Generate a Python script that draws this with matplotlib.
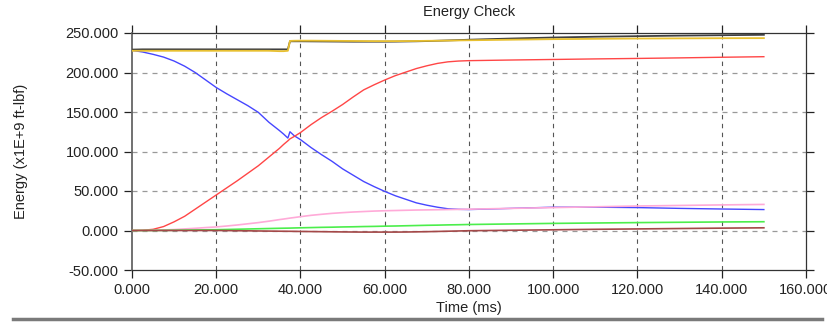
import matplotlib
matplotlib.use("Agg")
import matplotlib.pyplot as plt
from matplotlib.lines import Line2D
from matplotlib.ticker import FormatStrFormatter

plt.rcParams['font.family'] = ['Liberation Sans', 'DejaVu Sans']

time_ms = [0, 2.5, 5, 7.5, 10, 12.5, 15, 17.5, 20, 22.5, 25, 27.5, 30, 32.5, 35, 36, 37, 37.5, 38.5,
           40, 42.5, 45, 47.5, 50, 52.5, 55, 57.5, 60, 62.5, 65, 67.5, 70, 72.5, 75, 77.5, 80,
           90, 100, 110, 120, 130, 140, 150]
kinetic = [228, 226, 223, 219.5, 214.5, 208, 200, 190.5, 181, 173, 165.5, 158, 149.5, 137, 126.5, 122, 117,
           125, 120, 115, 105, 96, 87.5, 78, 70, 62, 55.5, 49.5, 44, 39.5, 35, 32, 29.5, 27.5, 26.8, 26.5,
           28, 29.5, 29.5, 29, 28, 27.2, 26.5]
internal = [0, 0.3, 1.5, 5, 11, 18, 27, 36, 45, 54, 63, 72.5, 82, 93, 104, 109, 113.5, 116, 119,
            124, 134, 143, 151, 159.5, 169, 178, 184.5, 190.5, 196, 200.5, 205, 208.5, 211.5, 213.5, 214.5, 215,
            215.8, 216.5, 217.2, 217.8, 218.5, 219.3, 220]
pink_energy = [0, 0.1, 0.3, 0.7, 1.2, 2, 2.8, 3.7, 4.5, 5.7, 7, 8.5, 10, 11.8, 13.8, 14.5, 15.3, 15.7, 16.4,
               17.5, 19.2, 20.5, 21.7, 22.6, 23.4, 24, 24.6, 25, 25.3, 25.6, 25.9, 26.1, 26.3, 26.5, 26.7, 27,
               28, 29, 30, 31, 31.7, 32.4, 33]
green_energy = [0, 0, 0.1, 0.2, 0.3, 0.5, 0.7, 0.85, 1, 1.3, 1.6, 1.9, 2.2, 2.5, 2.8, 2.9, 3, 3.05, 3.2,
                3.4, 3.7, 4, 4.2, 4.5, 4.7, 5, 5.2, 5.5, 5.7, 6, 6.3, 6.6, 6.8, 7.1, 7.3, 7.6,
                8.3, 9, 9.5, 10, 10.4, 10.8, 11.1]
brown_energy = [0, 0, 0, 0, 0, 0, 0, 0, 0, -0.1, -0.3, -0.4, -0.6, -0.75, -0.9, -0.95, -1, -1, -1.1,
                -1.2, -1.35, -1.5, -1.65, -1.8, -1.9, -2, -2, -2, -2, -1.9, -1.7, -1.5, -1.2, -0.9, -0.6, -0.3,
                0.3, 0.9, 1.5, 2, 2.5, 3, 3.4]
total_black = [229, 229.3, 229.3, 229.3, 229.3, 229.3, 229.3, 229.3, 229.3, 229.3, 229.3, 229.3, 229.3, 229.3,
               229.3, 229.3, 229.3, 239.5, 239.5,
               239.5, 239.4, 239.3, 239.2, 239.1, 239, 239, 239, 239, 239.1, 239.3, 239.5, 239.8, 240.2, 240.6,
               241, 241.5, 243, 244.3, 245.3, 246, 246.7, 247.2, 247.7]
total_yellow = [227.5, 227.5, 227.5, 227.5, 227.5, 227.5, 227.5, 227.5, 227.5, 227.5, 227.5, 227.5, 227.5,
                227.5, 227, 227, 227.5, 240, 240.2,
                240.3, 240.3, 240.2, 240.1, 240, 239.9, 239.8, 239.7, 239.7, 239.7, 239.8, 239.9, 240.1, 240.2,
                240.4, 240.6, 240.8, 241.5, 242.2, 242.6, 243, 243.2, 243.4, 243.5]

x_ticks = [0, 20, 40, 60, 80, 100, 120, 140, 160]
y_ticks = [-50, 0, 50, 100, 150, 200, 250]

fig = plt.figure(figsize=(8.28, 3.23), dpi=100)
ax = fig.add_axes([132/828, 53/323, 674/828, 237/323])

ax.plot(time_ms, kinetic, color='#4646ff', lw=1.0, zorder=3)
ax.plot(time_ms, internal, color='#ff4646', lw=1.0, zorder=3)
ax.plot(time_ms, pink_energy, color='#ffaad8', lw=1.2, zorder=3)
ax.plot(time_ms, green_energy, color='#4cee4c', lw=1.2, zorder=3)
ax.plot(time_ms, brown_energy, color='#a44848', lw=1.2, zorder=4)
ax.plot(time_ms, total_black, color='#404040', lw=1.3, zorder=4)
ax.plot(time_ms, total_yellow, color='#e8c030', lw=1.3, zorder=5)

ax.set_xlim(0, 160)
ax.set_ylim(-50, 250)
ax.set_xticks(x_ticks)
ax.set_yticks(y_ticks)
ax.xaxis.set_major_formatter(FormatStrFormatter('%.3f'))
ax.yaxis.set_major_formatter(FormatStrFormatter('%.3f'))

for x in x_ticks[1:-1]:
    ax.axvline(x, color='#555555', lw=0.8, ls=(0, (4, 4)), zorder=1)
for y in y_ticks[1:-1]:
    ax.axhline(y, color='#999999', lw=0.9, ls=(0, (4, 4)), zorder=1)

ax.tick_params(axis='both', which='both', direction='out', length=6, width=0.9,
               top=True, right=True, labelsize=10.5, colors='#222222', labelcolor='#222222')
for s in ax.spines.values():
    s.set_color('#333333')
    s.set_linewidth(0.9)
ax.spines['left'].set_color('#666666')
ax.spines['left'].set_linewidth(1.3)

ax.set_xlabel('Time (ms)', fontsize=10.5, labelpad=3, color='#222222')
ax.set_ylabel('Energy (x1E+9 ft-lbf)', fontsize=10.5, color='#222222')
ax.yaxis.set_label_coords(-0.154, 0.5)
fig.text(469/828, 1 - 12/323, 'Energy Check', ha='center', va='center', fontsize=10.5, color='#222222')

fig.add_artist(Line2D([13/828, 822/828], [1 - 319/323, 1 - 319/323], transform=fig.transFigure,
                      color='#7a7a7a', lw=2.5))

fig.savefig('out.png', dpi=100)
